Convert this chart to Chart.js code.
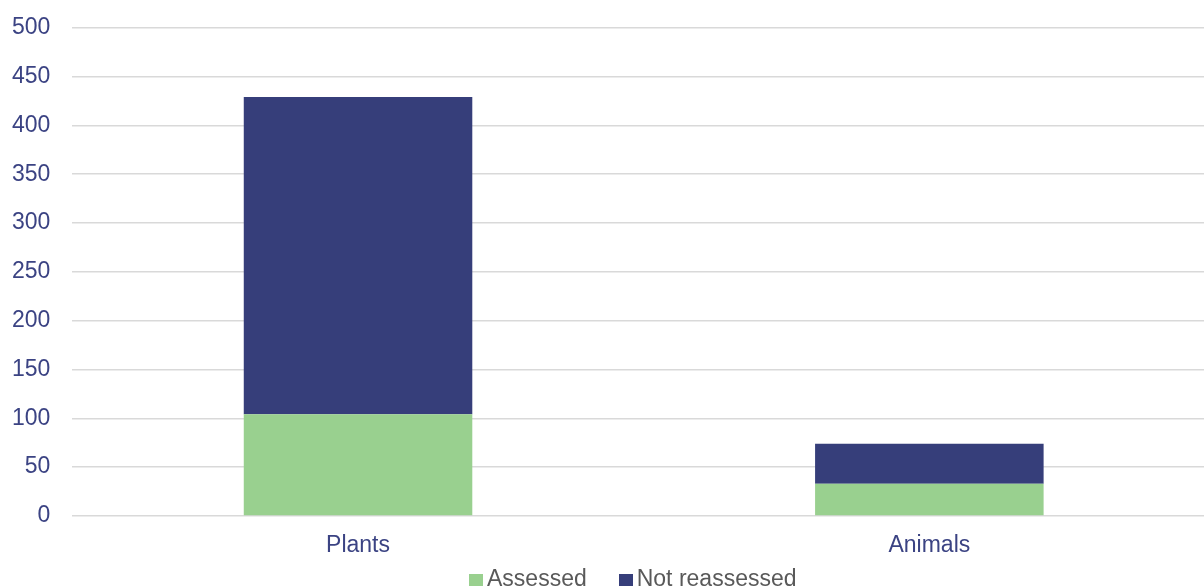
<!DOCTYPE html>
<html>
<head>
<meta charset="utf-8">
<script src="https://cdn.jsdelivr.net/npm/chart.js@4"></script>
<style>
    html, body { margin: 0; padding: 0; background: #fff; overflow: hidden; }
    #wrap { position: relative; width: 1215px; height: 587px; }
    #legenda {
        position: absolute; left: 469px; top: 566.7px;
        font: 23px/23px "Liberation Sans", Arial, sans-serif;
        color: rgb(89, 89, 89); white-space: nowrap;
    }
    #legenda .item { display: inline-block; }
    #legenda .item + .item { margin-left: 32px; }
    #legenda .caixa { display: inline-block; width: 14px; height: 12px; margin-right: 4px; }
</style>
</head>
<body>
<div id="wrap">
    <canvas id="barChart"></canvas>
    <div id="legenda"></div>
</div>
<script>
    const categorias = ['Plants', 'Animals'];
    const assessed = [104, 33];
    const notReassessed = [325, 41];
    const yTicks = [0, 500, 50]; // min, max, step

    const paleta = {
        verde: 'rgb(153, 208, 143)',
        azul: 'rgb(54, 62, 122)',
        texto: 'rgb(59, 67, 131)',
        grade: 'rgb(217, 217, 217)'
    };

    Chart.defaults.font.family = '"Liberation Sans", Arial, sans-serif';
    Chart.defaults.font.size = 23;

    const grafico = document.getElementById('barChart');
    const chart = new Chart(grafico, {
        type: 'bar',
        data: {
            labels: categorias,
            datasets: [{
                label: 'Assessed',
                data: assessed,
                backgroundColor: paleta.verde,
                barPercentage: 1,
                categoryPercentage: 0.4
            }, {
                label: 'Not reassessed',
                data: notReassessed,
                backgroundColor: paleta.azul,
                barPercentage: 1,
                categoryPercentage: 0.4
            }]
        },
        options: {
            responsive: true,
            maintainAspectRatio: false,
            animation: false,
            layout: { padding: { left: -10, top: 0, bottom: 19.5 } },
            plugins: {
                legend: { display: false },
                tooltip: { enabled: false }
            },
            scales: {
                x: {
                    stacked: true,
                    grid: { display: false },
                    border: { display: false },
                    ticks: { color: paleta.texto, padding: 8 }
                },
                y: {
                    stacked: true,
                    min: yTicks[0],
                    max: yTicks[1],
                    border: { display: false },
                    grid: { color: paleta.grade, lineWidth: 1.5, drawTicks: false },
                    ticks: {
                        stepSize: yTicks[2],
                        color: paleta.texto,
                        padding: 22,
                        font: { lineHeight: 0.5 }
                    }
                }
            }
        }
    });

    // legenda em html, a partir dos datasets
    const legenda = document.getElementById('legenda');
    chart.data.datasets.forEach(ds => {
        const item = document.createElement('span');
        item.className = 'item';
        const caixa = document.createElement('span');
        caixa.className = 'caixa';
        caixa.style.background = ds.backgroundColor;
        item.appendChild(caixa);
        item.appendChild(document.createTextNode(ds.label));
        legenda.appendChild(item);
    });
</script>
</body>
</html>
